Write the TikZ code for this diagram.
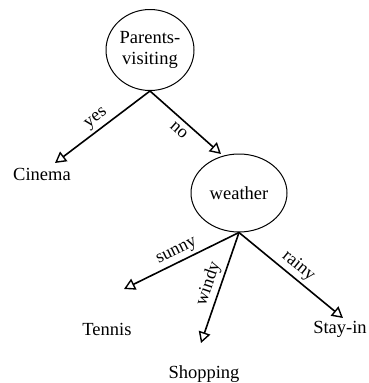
\documentclass[tikz,border=0pt]{standalone}
\usepackage{fontspec}
\setmainfont{Liberation Serif}
\usetikzlibrary{shapes,arrows.meta,positioning}
\tikzset{
  decision/.style={ellipse, draw, line width=1pt, align=center, inner sep=0pt},
  leaf/.style={inner sep=0pt},
  branch/.style={line width=1.6pt, -{Triangle[open,length=11pt,width=12pt,line width=1.4pt]}},
  cond/.style={sloped, font=\fontsize{18}{20}\selectfont, inner sep=3pt}
}
\begin{document}
\begin{tikzpicture}[x=1pt, y=-1pt, font=\fontsize{18.5}{21}\selectfont]
  \useasboundingbox (0,0) rectangle (369,383);
  \node[decision, minimum width=88pt, minimum height=81pt] (parents) at (150,50) {Parents-\\visiting};
  \node[decision, minimum width=96pt, minimum height=78pt] (weather) at (239,193) {weather};
  \node[leaf] (cinema) at (42,174) {Cinema};
  \node[leaf] (tennis) at (107,329) {Tennis};
  \node[leaf] (shopping) at (204,374) {Shopping};
  \node[leaf] (stayin) at (340,329) {Stay-in};
  \coordinate (cinema-tip) at (55,163);
  \coordinate (weather-tip) at (221,154);
  \coordinate (tennis-tip) at (124,289);
  \coordinate (shopping-tip) at (201,343);
  \coordinate (stayin-tip) at (343,318);
  % rami dell'albero
  \draw[branch] (parents.south) -- node[cond, above] {yes} (cinema-tip);
  \draw[branch] (parents.south) -- node[cond, below, inner sep=5pt] {no} (weather-tip);
  \draw[branch] (weather.south) -- node[cond, above] {sunny} (tennis-tip);
  \draw[branch] (weather.south) -- node[cond, above] {windy} (shopping-tip);
  \draw[branch] (weather.south) -- node[cond, above] {rainy} (stayin-tip);
\end{tikzpicture}
\end{document}
